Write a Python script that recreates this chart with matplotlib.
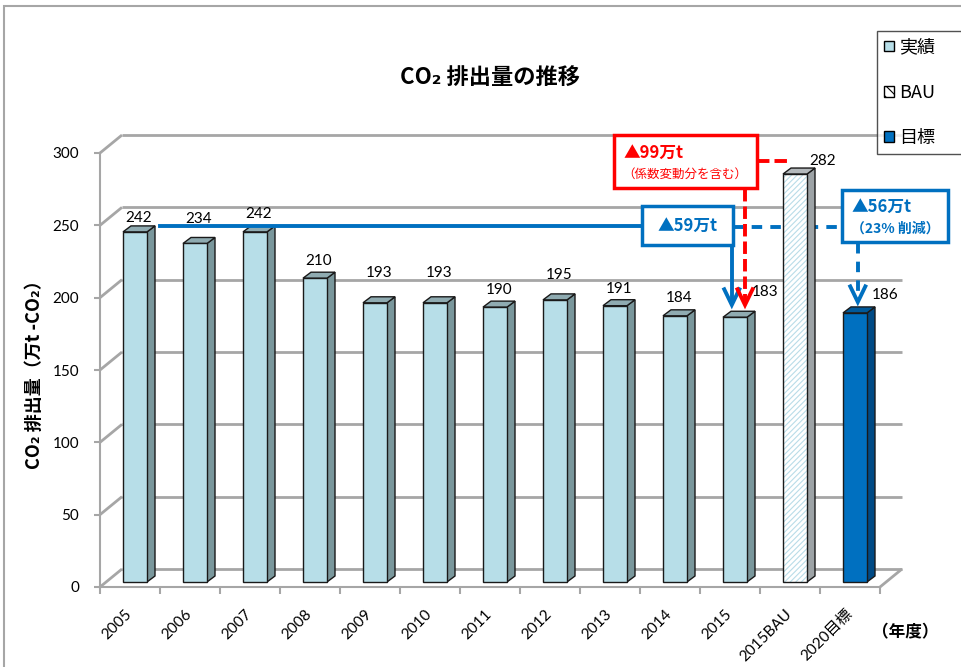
import numpy as np
import matplotlib.pyplot as plt
from matplotlib import transforms
from matplotlib.patches import Rectangle, Polygon, Patch
from matplotlib.lines import Line2D

plt.rcParams['font.family'] = ['Lato', 'Noto Sans CJK JP', 'DejaVu Sans']
plt.rcParams['hatch.linewidth'] = 0.8
JP = ['Noto Sans CJK JP', 'DejaVu Sans']

years = ['2005', '2006', '2007', '2008', '2009', '2010', '2011', '2012',
         '2013', '2014', '2015', '2015BAU', '2020目標']
emissions = [242, 234, 242, 210, 193, 193, 190, 195, 191, 184, 183, 282, 186]
kinds = ['実績'] * 11 + ['BAU', '目標']
yticks = [0, 50, 100, 150, 200, 250, 300]

# value label nudges in pixels (right, up) from the top of each bar
label_nudge = [(0, 4), (0, 14), (0, 8), (0, 7), (0, 20), (0, 20), (0, 7),
               (0, 15), (0, 7), (0, 8), (26, 15), (24, 3), (26, 8)]

# front, top, side colours
faces = {
    '実績': ('#b7dee8', '#8fabb1', '#7a979c'),
    'BAU': ('white', '#b4b9bc', '#9da3a6'),
    '目標': ('#0070c0', '#00599a', '#004a85'),
}
BLUE = '#0070c0'
RED = '#ff0000'
GRID = '#a6a6a6'
EDGE = '#1a1a1a'

W, H = 961, 667
fig = plt.figure(figsize=(W / 100, H / 100), dpi=100)
ax = fig.add_axes([100 / W, 80 / H, 780 / W, 434 / H])
ax.set_xlim(-0.5, 12.5)
ax.set_ylim(0, 300)

WALL = (22, 18)    # depth of the back wall, pixels
BAR = (5, 5)       # bar front face relative to the front plane
DEPTH = (8, 6)     # bar depth
BAR_W = 0.4
ident = transforms.IdentityTransform()


def shift(dx, dy):
    return transforms.offset_copy(ax.transData, fig=fig, x=dx, y=dy, units='dots')


# back wall gridlines + left wall diagonals
grid_kw = dict(color=GRID, lw=2, zorder=1, clip_on=False, solid_capstyle='butt')
wall = shift(*WALL)
for v in yticks:
    ax.plot([-0.5, 12.5], [v, v], transform=wall, **grid_kw)
    x0, y0 = ax.transData.transform((-0.5, v))
    ax.add_line(Line2D([x0, x0 + WALL[0]], [y0, y0 + WALL[1]], transform=ident, **grid_kw))
x0, y0 = ax.transData.transform((12.5, 0))
ax.add_line(Line2D([x0, x0 + WALL[0]], [y0, y0 + WALL[1]], transform=ident, **grid_kw))

# 3D-looking columns
front = shift(*BAR)
d = np.array(DEPTH)
for i, (v, k) in enumerate(zip(emissions, kinds)):
    fc, top_c, side_c = faces[k]
    x0, x1 = i - BAR_W / 2, i + BAR_W / 2
    bl, br, tr, tl = front.transform([(x0, 0), (x1, 0), (x1, v), (x0, v)])
    ax.add_patch(Polygon([br, br + d, tr + d, tr], closed=True, transform=ident,
                         fc=side_c, ec=EDGE, lw=1, zorder=3, clip_on=False))
    ax.add_patch(Polygon([tl, tr, tr + d, tl + d], closed=True, transform=ident,
                         fc=top_c, ec=EDGE, lw=1, zorder=3, clip_on=False))
    if k == 'BAU':
        ax.add_patch(Rectangle((x0, 0), BAR_W, v, transform=front, fc='white',
                               ec='#b9dce8', hatch='//////', lw=0, zorder=3, clip_on=False))
        ax.add_patch(Rectangle((x0, 0), BAR_W, v, transform=front, fill=False,
                               ec=EDGE, lw=1, zorder=3, clip_on=False))
    else:
        ax.add_patch(Rectangle((x0, 0), BAR_W, v, transform=front, fc=fc,
                               ec=EDGE, lw=1, zorder=3, clip_on=False))

for i, (v, (ndx, ndy)) in enumerate(zip(emissions, label_nudge)):
    t = shift(BAR[0] + DEPTH[0] / 2 + ndx, BAR[1] + DEPTH[1] + ndy)
    ax.text(i, v, str(v), transform=t, ha='center', va='baseline', fontsize=11, zorder=4)

# axes styling
for s in ['top', 'right']:
    ax.spines[s].set_visible(False)
for s in ['left', 'bottom']:
    ax.spines[s].set_color(GRID)
    ax.spines[s].set_linewidth(1.5)
ax.set_yticks(yticks)
ax.tick_params(axis='y', length=4, color=GRID, width=1.5, labelsize=11, pad=11)
ax.set_xticks(range(len(years)))
ax.set_xticklabels(years, rotation=45, ha='right', va='center', rotation_mode='anchor', fontsize=11)
ax.set_xticks(np.arange(-0.5, 13, 1), minor=True)
ax.tick_params(axis='x', which='major', length=0, pad=18)
ax.tick_params(axis='x', which='minor', length=5, color=GRID, width=1.5)
ax.patch.set_visible(False)

# callouts
lw = 2.8


def arrow_head(x, tip, color):
    ax.plot([x - 0.14, x, x + 0.14], [tip + 12, tip, tip + 12], color=color, lw=lw,
            solid_joinstyle='miter', solid_capstyle='butt', zorder=6, clip_on=False)


def box(x, y, w, h, color):
    ax.add_patch(Rectangle((x, y), w, h, fc='white', ec=color, lw=2.5, zorder=6, clip_on=False))


# 2005 level down to 2015
ax.plot([0.5, 8.53], [249.5, 249.5], color=BLUE, lw=lw, zorder=5, clip_on=False)
ax.plot([10.05, 11.87], [249, 249], color=BLUE, lw=lw, ls=(0, (2.7, 2.1)), zorder=2, clip_on=False)
ax.plot([10.03, 10.03], [236, 196], color=BLUE, lw=lw, zorder=5, clip_on=False)
arrow_head(10.03, 195, BLUE)
box(8.53, 236.4, 1.52, 26.9, BLUE)
ax.text(9.29, 249.5, '▲59万t', color=BLUE, fontsize=12, fontweight='bold',
        ha='center', va='center', zorder=7, family=JP)

# BAU down to 2015
ax.plot([10.45, 11.0], [294.4, 294.4], color=RED, lw=lw, ls=(0, (3.2, 1.3)), zorder=2, clip_on=False)
ax.plot([10.25, 10.25], [275, 197], color=RED, lw=lw, ls=(0, (3.2, 1.3)), zorder=5, clip_on=False)
arrow_head(10.25, 195, RED)
box(8.07, 275.7, 2.38, 36.7, RED)
ax.text(8.22, 300, '▲99万t', color=RED, fontsize=12, fontweight='bold',
        ha='left', va='center', zorder=7, family=JP)
ax.text(9.25, 285.4, '（係数変動分を含む）', color=RED, fontsize=9,
        ha='center', va='center', zorder=7, family=JP)

# 2020 target
ax.plot([12.13, 12.13], [238, 199], color=BLUE, lw=lw, ls=(0, (2.7, 2.1)), zorder=5, clip_on=False)
arrow_head(12.13, 197, BLUE)
box(11.87, 238.4, 1.76, 36, BLUE)
ax.text(12.53, 262.6, '▲56万t', color=BLUE, fontsize=12, fontweight='bold',
        ha='center', va='center', zorder=7, family=JP)
ax.text(12.75, 248, '（23% 削減）', color=BLUE, fontsize=10, fontweight='bold',
        ha='center', va='center', zorder=7, family=JP)

# legend
handles = [Patch(fc=faces['実績'][0], ec='black', lw=1),
           Patch(fc='white', ec='black', lw=1, hatch='\\\\\\'),
           Patch(fc=faces['目標'][0], ec='black', lw=1)]
leg = fig.legend(handles, ['実績', 'BAU', '目標'], loc='center left',
                 bbox_to_anchor=(877 / W, 1 - 158 / H, 110 / W, 131 / H), mode='expand',
                 borderaxespad=0, fancybox=False, edgecolor='#262626', fontsize=13,
                 handlelength=0.55, handleheight=0.55, handletextpad=0.25, labelspacing=1.5,
                 prop={'family': JP, 'size': 13})
leg.get_frame().set_linewidth(1)

# chart border and titles
fig.add_artist(Rectangle((4 / W, -0.05), 1, 1 - 6 / H + 0.05, transform=fig.transFigure,
                         fill=False, ec=GRID, lw=1.5))
fig.text(490 / W, 1 - 78 / H, 'CO₂ 排出量の推移', ha='center', va='center',
         fontsize=16, fontweight='bold', family=JP)
fig.text(35 / W, 1 - 370 / H, 'CO₂ 排出量（万t -CO₂）', rotation=90, ha='center',
         va='center', fontsize=13, fontweight='bold', family=JP)
fig.text(905 / W, 1 - 632 / H, '（年度）', ha='center', va='center',
         fontsize=12, fontweight='bold', family=JP)

fig.savefig('out.png', dpi=100)
